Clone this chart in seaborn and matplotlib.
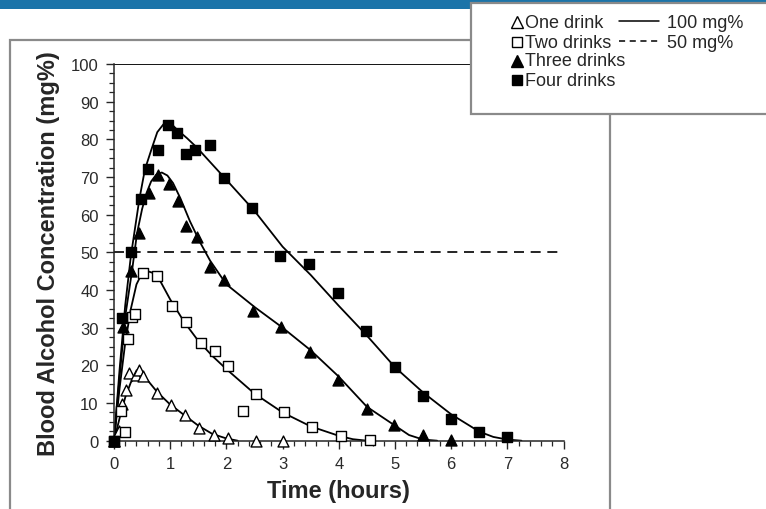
import numpy as np
import pandas as pd
import matplotlib
matplotlib.use("Agg")
import matplotlib.pyplot as plt
from matplotlib.lines import Line2D
from matplotlib.patches import Rectangle
from matplotlib.ticker import MultipleLocator
import seaborn as sns

# measured points (hours, mg%)
one_x = [0, 0.09, 0.15, 0.21, 0.27, 0.39, 0.45, 0.52, 0.77, 1.01, 1.27, 1.52, 1.78, 2.02, 2.52, 3.0]
one_y = [0, 2.7, 9.7, 13.5, 18.1, 17.5, 18.7, 17.3, 12.7, 9.6, 6.9, 3.3, 1.6, 0.6, 0, 0]

two_x = [0, 0.12, 0.19, 0.25, 0.32, 0.38, 0.52, 0.77, 1.04, 1.29, 1.54, 1.79, 2.03, 2.30, 2.52, 3.03, 3.53, 4.04, 4.55]
two_y = [0, 7.8, 2.2, 27.0, 32.8, 33.7, 44.5, 43.6, 35.7, 31.4, 26.0, 23.9, 19.7, 8.0, 12.5, 7.5, 3.6, 1.2, 0.3]

three_x = [0, 0.16, 0.31, 0.45, 0.63, 0.79, 0.97, 1.13, 1.29, 1.48, 1.70, 1.95, 2.47, 2.98, 3.48, 3.99, 4.5, 4.99, 5.5, 6.0]
three_y = [0, 30.1, 45.1, 55.1, 65.8, 70.5, 68.1, 63.7, 57.1, 54.0, 46.2, 42.6, 34.5, 30.1, 23.6, 16.2, 8.4, 4.2, 1.5, 0.2]

four_x = [0, 0.14, 0.30, 0.48, 0.61, 0.79, 0.96, 1.12, 1.28, 1.44, 1.70, 1.96, 2.45, 2.96, 3.47, 3.98, 4.49, 5.0, 5.49, 6.0, 6.49, 7.0]
four_y = [0, 32.6, 50.0, 64.2, 72.0, 77.3, 83.8, 81.7, 76.2, 77.3, 78.5, 69.7, 61.8, 48.9, 46.9, 39.2, 29.2, 19.6, 11.9, 5.8, 2.3, 1.0]

# fitted curves
one_fit_x = [0, 0.1, 0.2, 0.3, 0.4, 0.5, 0.6, 0.77, 1.0, 1.25, 1.5, 1.75, 2.0, 2.2]
one_fit_y = [0, 6, 11.5, 15.5, 17.3, 17.5, 16, 12.9, 9.6, 6.8, 4, 1.8, 0.6, 0]

two_fit_x = [0, 0.1, 0.2, 0.3, 0.4, 0.5, 0.6, 0.7, 0.8, 1.0, 1.25, 1.5, 1.75, 2.0, 2.5, 3.0, 3.5, 4.0, 4.25, 4.5]
two_fit_y = [0, 14, 26, 35, 41.5, 44.5, 45, 44.5, 43, 37.5, 31.5, 26.5, 22.5, 19, 12.5, 7.5, 3.8, 1.3, 0.4, 0]

three_fit_x = [0, 0.1, 0.2, 0.32, 0.41, 0.5, 0.58, 0.66, 0.75, 0.85, 0.95, 1.05, 1.18, 1.35, 1.53, 1.71, 2.0, 2.5, 3.0, 3.5, 4.0, 4.5, 5.0, 5.25, 5.5, 5.75]
three_fit_y = [0, 17, 33, 45, 55.1, 61.5, 65.8, 68.8, 70.6, 71.2, 70.4, 68.4, 64.4, 58.3, 52.7, 47.8, 41.5, 35.5, 30, 24, 17, 9, 4, 1.5, 0.3, 0]

four_fit_x = [0, 0.1, 0.2, 0.3, 0.45, 0.55, 0.67, 0.77, 0.88, 0.95, 1.02, 1.12, 1.3, 1.47, 1.96, 2.5, 3.0, 3.5, 4.0, 4.5, 5.0, 5.5, 6.0, 6.5, 6.75, 7.0, 7.25]
four_fit_y = [0, 19, 36, 49, 64, 72, 77.5, 81.9, 84, 84.4, 84.1, 82.6, 80.3, 77.9, 69.9, 61, 51.5, 44, 35.8, 27.9, 19.5, 12.8, 7, 2.4, 1.0, 0.3, 0]

limit_levels = [100, 50]
legend_labels = ["One drink", "Two drinks", "Three drinks", "Four drinks"]
limit_labels = ["100 mg%", "50 mg%"]

sns.set_style("ticks")
plt.rcParams['font.family'] = ['Liberation Sans', 'DejaVu Sans']

W, H = 766, 510
fig = plt.figure(figsize=(W / 100, H / 100), dpi=100)
fig.patch.set_facecolor("white")

# slide decoration: blue header bar and grey frame around the chart
fig.add_artist(Rectangle((0, 1 - 10 / H), 1, 10 / H, transform=fig.transFigure,
                         facecolor="#1b74a9", edgecolor="none"))
fig.add_artist(Rectangle((10 / W, -0.05), 600 / W, 1.05 - 41 / H, transform=fig.transFigure,
                         facecolor="none", edgecolor="#8a8a8a", lw=1.6))

ax = fig.add_axes([114 / W, 1 - 441.7 / H, (563.6 - 114) / W, (441.7 - 65) / H])
ax.set_facecolor("white")

series = [
    (one_x, one_y, one_fit_x, one_fit_y, "^", "white"),
    (two_x, two_y, two_fit_x, two_fit_y, "s", "white"),
    (three_x, three_y, three_fit_x, three_fit_y, "^", "black"),
    (four_x, four_y, four_fit_x, four_fit_y, "s", "black"),
]

for px, py, fx, fy, mk, fc in series:
    sns.lineplot(x=fx, y=fy, ax=ax, color="black", lw=1.3, sort=False,
                 estimator=None, zorder=2)
    size = 62 if mk == "^" else 52
    sns.scatterplot(x=px, y=py, ax=ax, marker=mk, s=size, color=fc,
                    edgecolor="black", linewidth=1.0, zorder=3, clip_on=False)

ax.axhline(limit_levels[0], color="black", lw=1.3, zorder=1)
ax.axhline(limit_levels[1], color="black", lw=1.2, ls=(0, (6, 4)), zorder=1)

ax.set_xlim(0, 8)
ax.set_ylim(0, 100)
ax.xaxis.set_major_locator(MultipleLocator(1))
ax.xaxis.set_minor_locator(MultipleLocator(0.2))
ax.yaxis.set_major_locator(MultipleLocator(10))
ax.yaxis.set_minor_locator(MultipleLocator(2.5))
ax.tick_params(which="major", direction="out", length=6, width=1.0, labelsize=12,
               labelcolor="#2a2a2a", pad=5)
ax.tick_params(which="minor", direction="out", length=3.5, width=0.9)
sns.despine(ax=ax, top=True, right=True)
for sp in ["left", "bottom"]:
    ax.spines[sp].set_linewidth(1.1)

ax.set_xlabel("Time (hours)", fontsize=17, fontweight="bold", labelpad=6)
ax.set_ylabel("Blood Alcohol Concentration (mg%)", fontsize=17, fontweight="bold", labelpad=8)

# legend box in the upper right corner
fig.add_artist(Rectangle((471 / W, 1 - 115 / H), 300 / W, 111 / H, transform=fig.transFigure,
                         facecolor="white", edgecolor="#8a8a8a", lw=1.6, zorder=5))
rows = [23, 43, 62, 81]
styles = [("^", "white", 8), ("s", "white", 7.5), ("^", "black", 8), ("s", "black", 7.5)]
for (mk, fc, ms), lab, ry in zip(styles, legend_labels, rows):
    fig.add_artist(Line2D([517 / W], [1 - ry / H], marker=mk, ms=ms, mfc=fc, mec="black",
                          mew=1.0, ls="none", transform=fig.transFigure, zorder=6))
    fig.text(525 / W, 1 - ry / H, lab, fontsize=13, va="center", ha="left", zorder=6)

for lab, ry, ls in zip(limit_labels, rows[:2], ["-", (0, (4, 3))]):
    fig.add_artist(Line2D([619 / W, 659 / W], [1 - (ry - 1) / H] * 2, color="black", lw=1.1,
                          ls=ls, transform=fig.transFigure, zorder=6))
    fig.text(667 / W, 1 - ry / H, lab, fontsize=13, va="center", ha="left", zorder=6)

fig.savefig("out.png", dpi=100, facecolor="white")
